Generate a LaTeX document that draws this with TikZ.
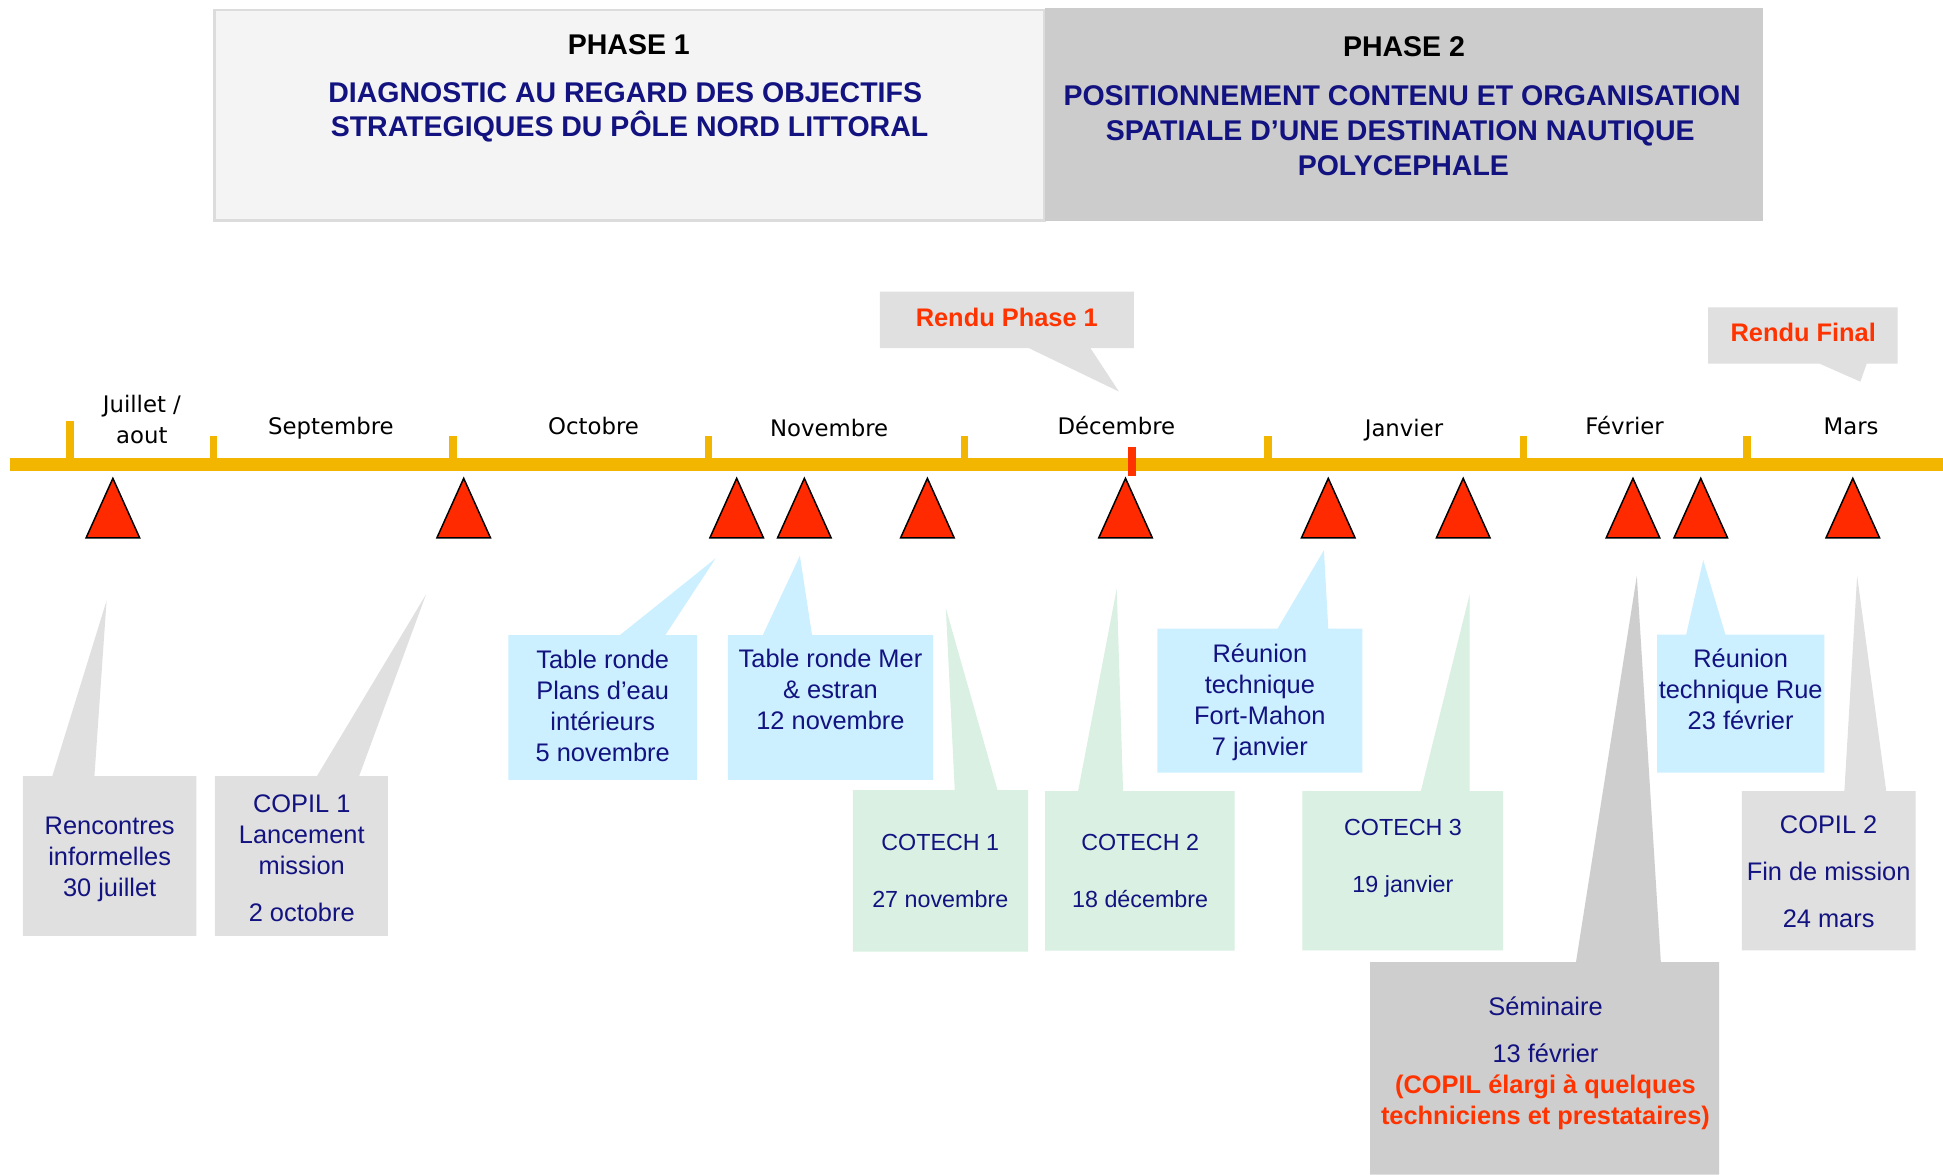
\documentclass[tikz,border=0pt]{standalone}
\usepackage{fontspec}
\setmainfont{Liberation Sans}
\newfontfamily\monthfont{DejaVu Sans}
\definecolor{navy}{RGB}{18,18,128}
\definecolor{redtxt}{RGB}{255,51,0}
\definecolor{barorange}{RGB}{242,182,0}
\definecolor{trired}{RGB}{255,42,0}
\definecolor{cgray}{RGB}{224,224,224}
\definecolor{cblue}{RGB}{204,240,255}
\definecolor{cgreen}{RGB}{218,240,227}
\definecolor{cdark}{RGB}{206,206,206}
\definecolor{ponefill}{RGB}{244,244,244}
\definecolor{poneborder}{RGB}{220,220,220}
\definecolor{ptwofill}{RGB}{204,204,204}
\begin{document}
\begin{tikzpicture}[x=1pt,y=-1pt,
  txt/.style={font=\fontsize{20.5}{25}\selectfont, text=navy, align=center, inner sep=0pt},
  smalltxt/.style={txt, font=\fontsize{18.8}{23}\selectfont},
  hdr/.style={font=\fontsize{23}{28}\selectfont\bfseries, inner sep=0pt, anchor=base},
  rendu/.style={font=\fontsize{20.5}{25}\selectfont\bfseries, text=redtxt, inner sep=0pt},
  month/.style={font=\monthfont\fontsize{18.4}{26}\selectfont, inner sep=0pt, anchor=base},
  tri/.style={fill=trired, draw=black, line width=1.2pt, line join=miter},
  tick/.style={draw=barorange, line width=6pt}]
\useasboundingbox (0,0) rectangle (1568,948);
\fill[white] (0,0) rectangle (1568,948);

% header
\draw[fill=ponefill, draw=poneborder, line width=2pt] (173,8) rectangle (843,178);
\fill[ptwofill] (843,6.5) rectangle (1422.5,178.3);
\node[hdr] (p1t) at (507.5,43.6) {PHASE 1};
\node[hdr,text=navy] (p1a) at (504.5,82.8) {DIAGNOSTIC AU REGARD DES OBJECTIFS};
\node[hdr,text=navy] (p1b) at (508,110.3) {STRATEGIQUES DU PÔLE NORD LITTORAL};
\node[hdr] (p2t) at (1133,45.2) {PHASE 2};
\node[hdr,text=navy] (p2a) at (1131.5,85.5) {POSITIONNEMENT CONTENU ET ORGANISATION};
\node[hdr,text=navy] (p2b) at (1130,113) {SPATIALE D’UNE DESTINATION NAUTIQUE};
\node[hdr,text=navy] (p2c) at (1132.5,142) {POLYCEPHALE};

% Rendu callouts
\fill[cgray] (710,235.4) -- (915,235.4) -- (915,281) -- (880,281) -- (903,316) -- (830.5,281) -- (710,281) -- cycle;
\node[rendu] (r1) at (812.5,256) {Rendu Phase 1};
\fill[cgray] (1378.5,248) -- (1531.4,248) -- (1531.4,293.5) -- (1506.4,293.5) -- (1501.3,308) -- (1468.5,293.5) -- (1378.5,293.5) -- cycle;
\node[rendu] (r2) at (1455.2,268) {Rendu Final};

% timeline
\draw[barorange, line width=10.7pt] (8,374.7) -- (1568,374.7);
\draw[tick] (56.5,340) -- (56.5,372);
\foreach \x in {172.4,365.5,571.8,778.3,1023.3,1229.3,1409.7}
  \draw[tick] (\x,352) -- (\x,372);
\draw[redtxt, line width=7pt] (913.5,360.5) -- (913.5,383.9);

\node[month] (m1) at (114.5,332.8) {Juillet /};
\node[month] (m1b) at (114.5,357.8) {aout};
\node[month] (m2) at (267.1,351) {Septembre};
\node[month] (m3) at (479,351) {Octobre};
\node[month] (m4) at (669.1,352) {Novembre};
\node[month] (m5) at (900.9,351) {Décembre};
\node[month] (m6) at (1133,352) {Janvier};
\node[month] (m7) at (1311,351) {Février};
\node[month] (m8) at (1493.8,351) {Mars};

\foreach \x in {91.1,374.2,594.5,649.1,748.4,908.3,1071.9,1180.8,1317.8,1372.5,1495.2}
  \draw[tri] (\x-21.6,434) -- (\x,386) -- (\x+21.6,434) -- cycle;

% bottom callouts
\fill[cgray] (18.5,626.3) -- (42.2,626.3) -- (86,484.8) -- (76.2,626.3) -- (158.5,626.3) -- (158.5,755.2) -- (18.5,755.2) -- cycle;
\fill[cgray] (173.5,626.3) -- (255.8,626.3) -- (343.8,479.7) -- (289.8,626.3) -- (313,626.3) -- (313,755.2) -- (173.5,755.2) -- cycle;
\fill[cblue] (410.3,512.5) -- (500.3,512.5) -- (577.5,450.6) -- (536.9,512.5) -- (562.6,512.5) -- (562.6,629.3) -- (410.3,629.3) -- cycle;
\fill[cblue] (587.3,512.5) -- (615.6,512.5) -- (645.5,448.5) -- (655.3,512.5) -- (753,512.5) -- (753,629.3) -- (587.3,629.3) -- cycle;
\fill[cgreen] (688.2,637.6) -- (770.5,637.6) -- (763.3,491) -- (805,637.6) -- (829.6,637.6) -- (829.6,768) -- (688.2,768) -- cycle;
\fill[cgreen] (843.4,638.5) -- (870,638.5) -- (901.2,475.1) -- (906.3,638.5) -- (996.3,638.5) -- (996.3,767.2) -- (843.4,767.2) -- cycle;
\fill[cblue] (933.9,507.3) -- (1031,507.3) -- (1068.4,444) -- (1071.9,507.3) -- (1099.5,507.3) -- (1099.5,623.4) -- (933.9,623.4) -- cycle;
\fill[cgreen] (1051,638.5) -- (1146.6,638.5) -- (1185.9,480) -- (1185.9,638.5) -- (1213,638.5) -- (1213,767) -- (1051,767) -- cycle;
\fill[cdark] (1105.7,776.5) -- (1271.8,776.5) -- (1320.9,464.8) -- (1340.3,776.5) -- (1387.3,776.5) -- (1387.3,948) -- (1105.7,948) -- cycle;
\fill[cblue] (1337.2,512.1) -- (1360.7,512.1) -- (1374.5,452) -- (1392.4,512.1) -- (1472.2,512.1) -- (1472.2,623.4) -- (1337.2,623.4) -- cycle;
\fill[cgray] (1405.6,638.5) -- (1488.4,638.5) -- (1498.7,464.8) -- (1522.2,638.5) -- (1545.8,638.5) -- (1545.8,767) -- (1405.6,767) -- cycle;

\node[txt] (n1) at (88.5,693.5) {Rencontres\\informelles\\30 juillet};
\node[txt] (n2) at (243.5,692.5) {COPIL 1\\Lancement\\mission\\[13pt]2 octobre};
\node[txt] (n3) at (486.4,569.8) {Table ronde\\Plans d’eau\\intérieurs\\5 novembre};
\node[txt] (n4) at (670.2,556.5) {Table ronde Mer\\\& estran\\12 novembre};
\node[smalltxt] (n5) at (758.8,703) {COTECH 1\\[23pt]27 novembre};
\node[smalltxt] (n6) at (920.1,703) {COTECH 2\\[23pt]18 décembre};
\node[txt] (n7) at (1016.7,566.5) {Réunion\\technique\\Fort-Mahon\\7 janvier};
\node[smalltxt] (n8) at (1132.2,692.5) {COTECH 3\\[23pt]19 janvier};
\node[txt] (n9) at (1247.2,858) {Séminaire\\[12.5pt]13 février\\{\bfseries\color{redtxt}(COPIL élargi à quelques}\\{\bfseries\color{redtxt}techniciens et prestataires)}};
\node[txt] (n10) at (1404.7,556.5) {Réunion\\technique Rue\\23 février};
\node[txt] (n11) at (1475.7,703.5) {COPIL 2\\[13pt]Fin de mission\\[13pt]24 mars};
\end{tikzpicture}
\end{document}
